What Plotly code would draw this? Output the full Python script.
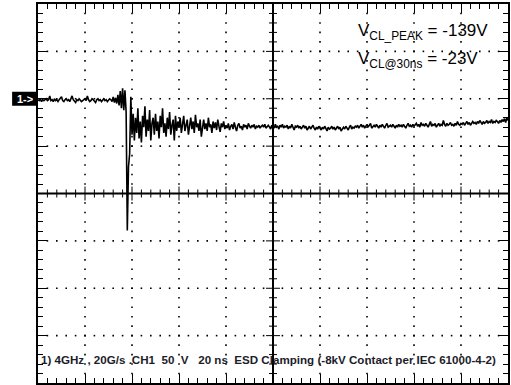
import numpy as np
import plotly.graph_objects as go

# ---------------- data (volts, sampled every 0.5 ns) ----------------
SAMPLE_NS = 0.5
X_RANGE = [0, 200]      # ns, 20 ns/div x 10 div
Y_RANGE = [-300, 100]   # V, 50 V/div x 8 div, ref "1->" at 0 V

pre_trigger = [-1,-2,0,-3,-1,-2,-1,0,-2,-1, 3,-2,-1,-3,0,-2,-1,-3,-1,0,
               2,-2,-3,-1,0,-2,-1,-3,0,3, -1,-2,-4,-1,-2,0,-1,-3,-2,-1,
               0,-2,3,-1,-3,-2,0,-1,-2,-4, -1,0,-2,-1,-3,-1,0,-2,-1,-3,
               -2,0,-1,-3,2,-4,1,-5,4,-7, 8,-10,11,-12,9,-14]

pulse_ringing = [-139,-72,-58,2,
                 -38,-16,-44,-20,-36,-10,-42,-24,-46,-18,-30,-8,-40,-22,-34,-12,-44,-26,-20,-38,
                 -16,-34,-24,-42,-18,-30,-10,-36,-26,-40,-20,-32,-14,-38,-28,-22,-44,-18,-34,-24,
                 -30,-20,-36,-24,-18,-34,-28,-22,-38,-26,-20,-32,-24,-36,-17,-30,-26,-34,-22,-40,
                 -28,-22,-32,-26,-34,-20,-30,-27,-36,-24,-31,-25,-33,-22,-29,-35,-26,-30,-24,-32,
                 -28,-31,-26,-33,-29,-27,-32,-25,-30,-34,-28,-26,-31,-29,-33,-27,-30,-28,-32,-26,
                 -29,-31,-28,-30,-27,-32,-29,-30,-28,-31,-29]

tail = [-28,-30,-27,-31,-29,-28,-30,-32,-28,-29,
        -31,-27,-30,-29,-32,-28,-30,-27,-31,-29,
        -30,-28,-32,-29,-31,-27,-30,-33,-29,-30,
        -28,-31,-29,-32,-30,-28,-31,-29,-33,-30,
        -29,-32,-30,-28,-31,-33,-30,-32,-29,-31,
        -33,-30,-32,-29,-31,-34,-30,-32,-31,-29,
        -32,-30,-33,-31,-29,-32,-30,-34,-31,-30,
        -32,-29,-31,-33,-30,-28,-32,-30,-31,-29,
        -30,-28,-31,-29,-27,-30,-28,-31,-29,-27,
        -30,-28,-26,-31,-29,-28,-30,-27,-29,-31,
        -28,-30,-27,-29,-31,-28,-26,-30,-29,-28,
        -30,-27,-29,-31,-28,-30,-27,-29,-28,-30,
        -27,-29,-31,-28,-26,-29,-28,-30,-27,-29,
        -28,-26,-29,-27,-30,-25,-28,-27,-29,-26,
        -28,-30,-27,-24,-29,-27,-28,-26,-30,-27,
        -26,-29,-27,-28,-23,-27,-29,-26,-28,-27,
        -25,-28,-27,-29,-26,-28,-24,-27,-28,-26,
        -27,-25,-28,-26,-24,-27,-25,-28,-26,-24,
        -26,-25,-27,-24,-26,-23,-25,-27,-24,-26,
        -25,-23,-26,-24,-25,-22,-26,-24,-25,-23,
        -24,-26,-23,-25,-22,-24,-21,-25,-20,-23]

label_peak = "V<sub>CL_PEAK</sub> = -139V"
label_30ns = "V<sub>CL@30ns</sub> = -23V"
footer = ("<b>1) 4GHz , 20G/s .CH1 \u00a050 \u00a0V \u00a0\u00a020 ns \u00a0ESD Clamping "
          "(-8kV Contact per IEC 61000-4-2)</b>")

# ---------------- layout geometry ----------------
W, H = 511, 385
ML, MR, MT, MB = 38, 1, 4, 2
PW, PH = W - ML - MR, H - MT - MB
V_PER_PX = (Y_RANGE[1] - Y_RANGE[0]) / PH
NS_PER_PX = (X_RANGE[1] - X_RANGE[0]) / PW
XDIV, YDIV = 20, 50
XMIN, YMIN = 4, 10

volts = pre_trigger + pulse_ringing + tail
t = np.arange(len(volts)) * SAMPLE_NS

fig = go.Figure()

# grid dots along major lines
gx, gy = [], []
xc = (X_RANGE[0] + X_RANGE[1]) / 2
yc = (Y_RANGE[0] + Y_RANGE[1]) / 2
for yv in np.arange(Y_RANGE[0] + YDIV, Y_RANGE[1], YDIV):
    if abs(yv - yc) < 1e-6:
        continue
    for xv in np.arange(X_RANGE[0] + XMIN, X_RANGE[1], XMIN):
        if abs(xv - xc) < 1e-6:
            continue
        gx.append(xv); gy.append(yv)
for xv in np.arange(X_RANGE[0] + XDIV, X_RANGE[1], XDIV):
    if abs(xv - xc) < 1e-6:
        continue
    for yv in np.arange(Y_RANGE[0] + YMIN, Y_RANGE[1], YMIN):
        if abs(yv - yc) < 1e-6:
            continue
        gx.append(xv); gy.append(yv)
fig.add_trace(go.Scatter(x=gx, y=gy, mode="markers",
                         marker=dict(symbol="square", size=1.6, color="#000"),
                         hoverinfo="skip", showlegend=False))

# centre crosshair with ticks
cx, cy = [X_RANGE[0], X_RANGE[1], None, xc, xc], [yc, yc, None, Y_RANGE[0], Y_RANGE[1]]
fig.add_trace(go.Scatter(x=cx, y=cy, mode="lines", line=dict(color="#000", width=2),
                         hoverinfo="skip", showlegend=False))
tx, ty = [], []
for xv in np.arange(X_RANGE[0] + XMIN, X_RANGE[1], XMIN):
    d = (7 if abs((xv - X_RANGE[0]) % XDIV) < 1e-6 else 4) * V_PER_PX
    tx += [xv, xv, None]; ty += [yc - d, yc + d, None]
for yv in np.arange(Y_RANGE[0] + YMIN, Y_RANGE[1], YMIN):
    d = (7 if abs((yv - Y_RANGE[0]) % YDIV) < 1e-6 else 4) * NS_PER_PX
    tx += [xc - d, xc + d, None]; ty += [yv, yv, None]
fig.add_trace(go.Scatter(x=tx, y=ty, mode="lines", line=dict(color="#000", width=1),
                         hoverinfo="skip", showlegend=False))

# waveform
fig.add_trace(go.Scatter(x=t, y=volts, mode="lines", line=dict(color="#000", width=1.6),
                         showlegend=False))

axis_common = dict(showgrid=False, zeroline=False, showline=True, mirror="ticks",
                   linecolor="#000", linewidth=1.5, ticks="inside", ticklen=9,
                   tickcolor="#000", tickwidth=1, showticklabels=False)
fig.update_xaxes(range=X_RANGE, tick0=X_RANGE[0], dtick=XDIV,
                 minor=dict(ticks="inside", dtick=XMIN, tick0=X_RANGE[0], ticklen=5,
                            tickcolor="#000", tickwidth=1, showgrid=False),
                 **axis_common)
fig.update_yaxes(range=Y_RANGE, tick0=Y_RANGE[0], dtick=YDIV,
                 minor=dict(ticks="inside", dtick=YMIN, tick0=Y_RANGE[0], ticklen=5,
                            tickcolor="#000", tickwidth=1, showgrid=False),
                 **axis_common)

def px_x(p):
    return (p - ML) / PW

def px_y(p):
    return (H - MB - p) / PH

font = "Liberation Sans, Arial, sans-serif"
fig.add_annotation(text=label_peak, xref="paper", yref="paper", x=px_x(357), y=px_y(19),
                   xanchor="left", yanchor="top", showarrow=False,
                   font=dict(family=font, size=17, color="#000"))
fig.add_annotation(text=label_30ns, xref="paper", yref="paper", x=px_x(357), y=px_y(47),
                   xanchor="left", yanchor="top", showarrow=False,
                   font=dict(family=font, size=17, color="#000"))
fig.add_annotation(text=footer, xref="paper", yref="paper", x=px_x(39), y=px_y(359),
                   xanchor="left", yanchor="middle", showarrow=False,
                   font=dict(family=font, size=11.6, color="#1c1c2a"))

# channel reference marker "1->" at 0 V
fig.add_shape(type="rect", xref="paper", yref="y", x0=px_x(12), x1=px_x(37),
              y0=-7 * V_PER_PX, y1=7 * V_PER_PX, fillcolor="#000", line=dict(width=0))
fig.add_annotation(text="<b>1-></b>", xref="paper", yref="y", x=px_x(24.5), y=0,
                   xanchor="center", yanchor="middle", showarrow=False,
                   font=dict(family=font, size=11, color="#fff"))

fig.update_layout(width=W, height=H, margin=dict(l=ML, r=MR, t=MT, b=MB),
                  paper_bgcolor="#fff", plot_bgcolor="#fff")
fig.write_html("out.html", config={"displayModeBar": False},
               post_script="document.body.style.margin='0';document.body.style.overflow='hidden';")
